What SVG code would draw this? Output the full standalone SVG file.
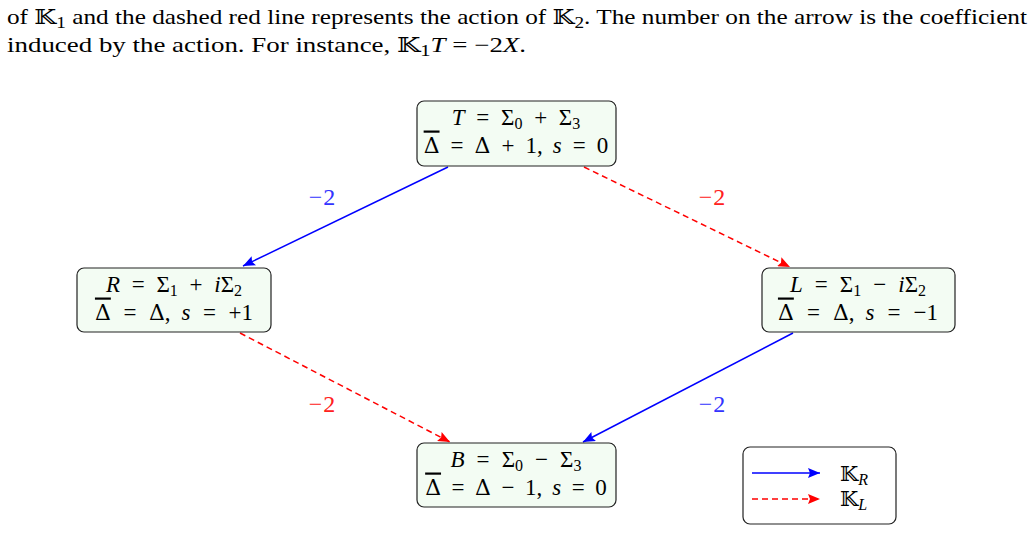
<svg xmlns="http://www.w3.org/2000/svg" width="1032" height="549" viewBox="0 0 1032 549">
<style>
text{font-family:"Liberation Serif","DejaVu Serif",serif;font-size:21px;fill:#000}
.n{font-size:23px}
.i{font-style:italic}
.sub{font-size:16px}
.bb{font-family:"DejaVu Serif","DejaVu Sans",serif}
.d{font-family:"DejaVu Serif",serif;font-size:22px}
.ov{text-decoration:overline}
.box{fill:#f3fcf3;stroke:#222;stroke-width:1.2}
.blue{stroke:#0000ff;stroke-width:1.5;fill:none}
.red{stroke:#ff0000;stroke-width:1.5;fill:none;stroke-dasharray:6 4}
.lb{fill:#3333ff;font-size:24px}
.lr{fill:#ff2020;font-size:24px}
</style>
<defs>
<marker id="ab" viewBox="0 0 12 10" refX="12" refY="5" markerWidth="12" markerHeight="10" markerUnits="userSpaceOnUse" orient="auto"><path d="M0,0 L12,5 L0,10 L2,5 Z" fill="#0000ff"/></marker>
<marker id="ar" viewBox="0 0 12 10" refX="12" refY="5" markerWidth="12" markerHeight="10" markerUnits="userSpaceOnUse" orient="auto"><path d="M0,0 L12,5 L0,10 L2,5 Z" fill="#ff0000"/></marker>
</defs>
<g id="caption">
<text x="7" y="24" textLength="1020" lengthAdjust="spacingAndGlyphs">of <tspan class="bb">𝕂</tspan><tspan class="sub" dy="4">1</tspan><tspan dy="-4"> and the dashed red line represents the action of </tspan><tspan class="bb">𝕂</tspan><tspan class="sub" dy="4">2</tspan><tspan dy="-4">. The number on the arrow is the coefficient</tspan></text>
<text x="7" y="52" textLength="519" lengthAdjust="spacingAndGlyphs">induced by the action. For instance, <tspan class="bb">𝕂</tspan><tspan class="sub" dy="4">1</tspan><tspan dy="-4" class="i">T</tspan><tspan> = −2</tspan><tspan class="i">X</tspan><tspan>.</tspan></text>
</g>
<g id="connectors">
<line class="blue" x1="448" y1="167" x2="243" y2="266" marker-end="url(#ab)"/>
<line class="red" x1="584" y1="167" x2="790" y2="267" marker-end="url(#ar)"/>
<line class="red" x1="240" y1="333" x2="450" y2="442" marker-end="url(#ar)"/>
<line class="blue" x1="793" y1="333" x2="583" y2="442" marker-end="url(#ab)"/>
<text class="lb" x="322" y="205" text-anchor="middle">−<tspan dx="1">2</tspan></text>
<text class="lr" x="712" y="205" text-anchor="middle">−<tspan dx="1">2</tspan></text>
<text class="lr" x="322" y="412" text-anchor="middle">−<tspan dx="1">2</tspan></text>
<text class="lb" x="712" y="412" text-anchor="middle">−<tspan dx="1">2</tspan></text>
</g>
<g id="node-T">
<rect class="box" x="417" y="101" width="199" height="65" rx="7"/>
<text class="n" x="516" y="125" text-anchor="middle" word-spacing="6"><tspan class="i">T</tspan> = Σ<tspan class="sub" dy="4">0</tspan><tspan dy="-4"> + Σ</tspan><tspan class="sub" dy="4">3</tspan></text>
<text class="n" x="516" y="152.5" text-anchor="middle" word-spacing="5.3"><tspan class="d ov">Δ</tspan> = <tspan class="d">Δ</tspan> + 1,<tspan dx="10" class="i">s</tspan> = 0</text>
</g>
<g id="node-R">
<rect class="box" x="77" y="268" width="194" height="64" rx="7"/>
<text class="n" x="174" y="292" text-anchor="middle" word-spacing="6"><tspan class="i">R</tspan> = Σ<tspan class="sub" dy="4">1</tspan><tspan dy="-4"> + </tspan><tspan class="i">i</tspan>Σ<tspan class="sub" dy="4">2</tspan></text>
<text class="n" x="174" y="319.5" text-anchor="middle" word-spacing="6.8"><tspan class="d ov">Δ</tspan> = <tspan class="d">Δ</tspan>,<tspan dx="11" class="i">s</tspan> = +1</text>
</g>
<g id="node-L">
<rect class="box" x="762" y="268" width="193" height="64" rx="7"/>
<text class="n" x="858" y="292" text-anchor="middle" word-spacing="6.3"><tspan class="i">L</tspan> = Σ<tspan class="sub" dy="4">1</tspan><tspan dy="-4"> − </tspan><tspan class="i">i</tspan>Σ<tspan class="sub" dy="4">2</tspan></text>
<text class="n" x="858" y="319.5" text-anchor="middle" word-spacing="7.3"><tspan class="d ov">Δ</tspan> = <tspan class="d">Δ</tspan>,<tspan dx="11" class="i">s</tspan> = −1</text>
</g>
<g id="node-B">
<rect class="box" x="417" y="443" width="199" height="64" rx="7"/>
<text class="n" x="516" y="467" text-anchor="middle" word-spacing="6.3"><tspan class="i">B</tspan> = Σ<tspan class="sub" dy="4">0</tspan><tspan dy="-4"> − Σ</tspan><tspan class="sub" dy="4">3</tspan></text>
<text class="n" x="516" y="494.5" text-anchor="middle" word-spacing="4.8"><tspan class="d ov">Δ</tspan> = <tspan class="d">Δ</tspan> − 1,<tspan dx="10" class="i">s</tspan> = 0</text>
</g>
<g id="legend">
<rect x="743" y="447" width="153" height="77" rx="7" fill="#fff" stroke="#222" stroke-width="1.2"/>
<line class="blue" x1="752" y1="473" x2="820" y2="473" marker-end="url(#ab)"/>
<line class="red" x1="752" y1="499" x2="820" y2="499" marker-end="url(#ar)"/>
<text x="840" y="481" font-size="22"><tspan class="bb">𝕂</tspan><tspan class="sub i" dy="4">R</tspan></text>
<text x="840" y="506" font-size="22"><tspan class="bb">𝕂</tspan><tspan class="sub i" dy="4">L</tspan></text>
</g>
</svg>
